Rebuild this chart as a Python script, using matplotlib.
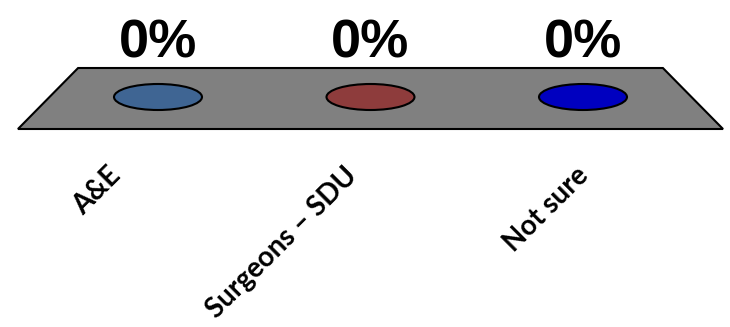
import matplotlib
matplotlib.use("Agg")
import matplotlib.pyplot as plt
from matplotlib.patches import Ellipse, Polygon, Rectangle

categories = ["A&E", "Surgeons \u2013 SDU", "Not sure"]
values = [0, 0, 0]  # percent of responses
colors = ["#3F6593", "#8E3C3C", "#0000C0"]

# layout, in pixel-sized units along y and category units along x
label_dx = [-0.17, -0.055, 0.035]   # per-label nudge of rotated category labels
px_per_pct = 1.5
floor_back, floor_front = 29, -32
back_pad, front_pad = 0.376, 0.659

fig = plt.figure(figsize=(7.3, 3.27), dpi=100)
ax = fig.add_axes([0, 0, 1, 1])
ax.set_xlim(-0.7435, 2.6918)
ax.set_ylim(-230, 97)
ax.axis("off")

n = len(categories)

# the grey floor in perspective
floor = Polygon([(-back_pad, floor_back), (n - 1 + back_pad, floor_back),
                 (n - 1 + front_pad, floor_front), (-front_pad, floor_front)],
                closed=True, facecolor="#808080", edgecolor="black", lw=1.5, zorder=1)
ax.add_patch(floor)

w = 0.414
for i, (cat, v, c) in enumerate(zip(categories, values, colors)):
    h = v * px_per_pct
    if h > 0:
        ax.add_patch(Rectangle((i - w / 2, 0), w, h, facecolor=c, edgecolor="black", lw=1.5, zorder=2))
        ax.add_patch(Ellipse((i, 0), w, 26, facecolor=c, edgecolor="black", lw=1.5, zorder=2))
    ax.add_patch(Ellipse((i, h), w, 26, facecolor=c, edgecolor="black", lw=1.5, zorder=3))
    ax.text(i, h + 40, f"{v:.0f}%", ha="center", va="baseline",
            fontsize=39, fontweight="bold", family="Liberation Sans", zorder=4)
    ax.text(i + label_dx[i], -80, cat, rotation=45, rotation_mode="anchor",
            ha="right", va="baseline", fontsize=20, fontweight="bold",
            family="Lato", zorder=4)

fig.savefig("out.png", dpi=100)
